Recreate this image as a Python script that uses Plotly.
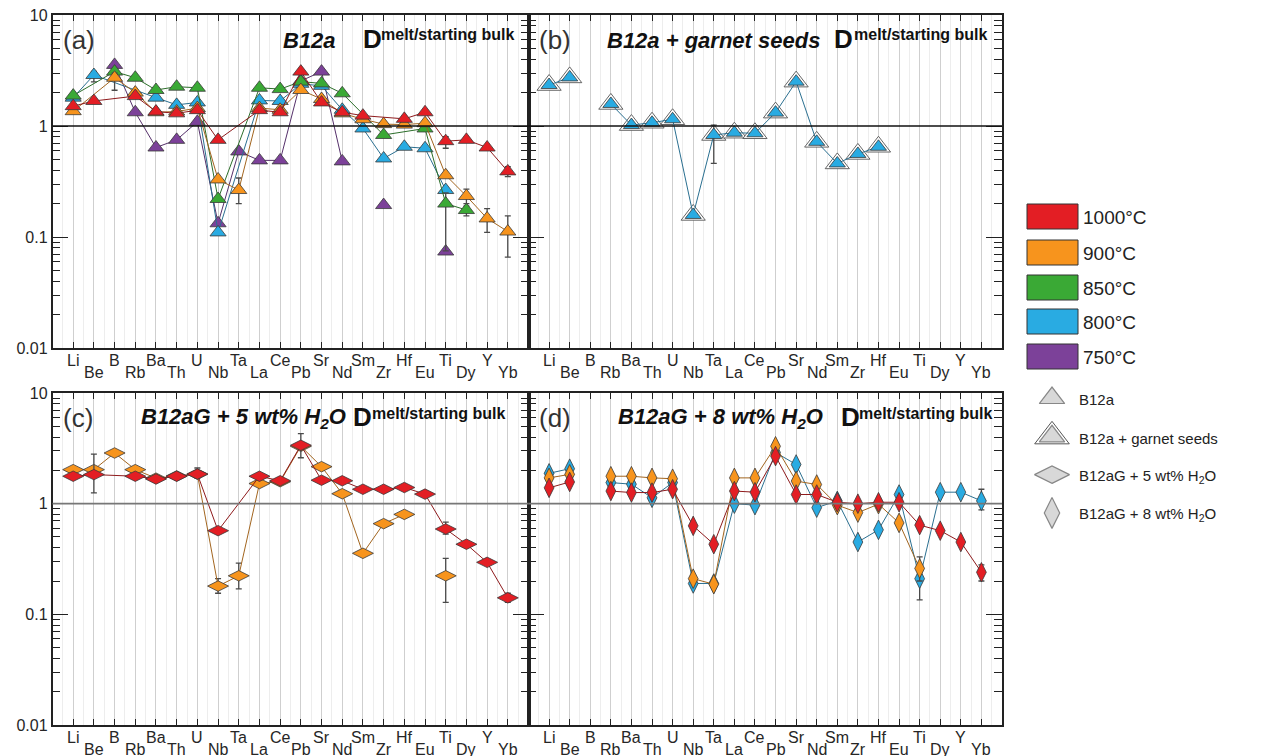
import plotly.graph_objects as go

W, H = 1283, 756
PAGE_OFFSET = 8  # default page body margin in the browser

elements = ["Li", "Be", "B", "Rb", "Ba", "Th", "U", "Nb", "Ta", "La", "Ce",
            "Pb", "Sr", "Nd", "Sm", "Zr", "Hf", "Eu", "Ti", "Dy", "Y", "Yb"]

# ---------------- Panel (a): B12a ----------------
a_1000 = [1.51, 1.68, None, 1.86, 1.35, 1.30, 1.39, 0.75, None, 1.39, 1.33,
          3.09, 1.63, 1.33, 1.24, None, 1.16, 1.33, 0.73, 0.75, 0.64, 0.39]
a_900 = [1.36, None, 2.72, 2.00, 1.33, 1.35, 1.45, 0.33, 0.265, 1.45, 1.40,
         2.11, 1.75, 1.30, 1.15, 1.04, 1.03, 1.06, 0.36, 0.234, 0.147, 0.112]
a_850 = [1.88, None, 3.09, 2.72, 2.11, 2.26, 2.21, 0.22, None, 2.21, 2.15,
         2.51, 2.42, 1.97, None, 0.83, None, 0.95, 0.20, 0.175, None, None]
a_800 = [1.80, 2.88, None, None, 1.80, 1.55, 1.63, 0.11, None, 1.70, 1.68,
         2.40, 2.30, 1.40, 0.95, 0.51, 0.65, 0.63, 0.265, None, None, None]
a_750 = [None, None, 3.55, 1.33, 0.64, 0.75, 1.09, 0.133, 0.59, 0.49, 0.49,
         2.55, 3.09, 0.48, None, 0.194, None, None, 0.074, None, None, None]

# ---------------- Panel (b): B12a + garnet seeds ----------------
b_800 = [2.34, 2.74, None, 1.58, 1.02, 1.07, 1.15, 0.158, 0.83, 0.87, 0.86,
         1.32, 2.51, 0.72, 0.46, 0.56, 0.65, None, None, None, None, None]

# ---------------- Panel (c): B12aG + 5 wt% H2O ----------------
c_1000 = [1.77, 1.83, None, 1.77, 1.67, 1.77, 1.85, 0.57, None, 1.77, 1.61,
          3.37, 1.63, 1.61, 1.35, 1.35, 1.40, 1.22, 0.59, 0.43, 0.295, 0.141]
c_900 = [2.03, 2.03, 2.87, 2.03, 1.70, 1.78, 1.85, 0.18, 0.223, 1.52, 1.58,
         3.30, 2.16, 1.23, 0.356, 0.66, 0.80, None, 0.223, None, None, None]

# ---------------- Panel (d): B12aG + 8 wt% H2O ----------------
d_1000 = [1.39, 1.57, None, 1.30, 1.26, 1.26, 1.35, 0.63, 0.43, 1.30, 1.27,
          2.69, 1.21, 1.21, 1.03, 1.00, 1.03, 1.03, 0.64, 0.57, 0.45, 0.24]
d_900 = [1.71, 1.84, None, 1.77, 1.77, 1.71, 1.68, 0.21, 0.187, 1.71, 1.71,
         3.30, 1.60, 1.49, 0.97, 0.83, 0.99, 0.67, 0.26, None, None, None]
d_800 = [1.88, 2.07, None, 1.55, 1.50, 1.13, 1.55, 0.19, 0.19, 1.00, 0.97,
         2.90, 2.26, 0.92, 1.06, 0.45, 0.58, 1.21, 0.21, 1.27, 1.27, 1.06]

# error bars: element -> (low, high)
a_1000_err = {"Ti": (0.63, 0.80), "Yb": (0.35, 0.43)}
a_900_err = {"B": (2.1, 3.0), "Ta": (0.20, 0.34), "Dy": (0.20, 0.27),
             "Y": (0.11, 0.18), "Yb": (0.066, 0.155)}
a_850_err = {"Ti": (0.075, 0.25), "Dy": (0.155, 0.19)}
a_800_err = {"Be": (2.5, 3.1), "Sm": (0.90, 1.0)}
a_750_err = {}
b_800_err = {"Ta": (0.46, 1.02)}
c_1000_err = {"Be": (1.25, 2.8), "U": (1.7, 2.1), "Pb": (2.6, 4.3),
              "Ti": (0.53, 0.68), "Yb": (0.128, 0.155)}
c_900_err = {"Nb": (0.155, 0.21), "Ta": (0.17, 0.29), "Ti": (0.128, 0.32)}
d_1000_err = {"Yb": (0.20, 0.28)}
d_900_err = {"Ti": (0.20, 0.33)}
d_800_err = {"Ti": (0.135, 0.25), "Yb": (0.88, 1.35)}

temp_labels = ["1000°C", "900°C", "850°C", "800°C", "750°C"]
temp_colors = ["#e31e24", "#f7941d", "#3aa935", "#29abe2", "#7c4199"]
line_colors = ["#8e1a1c", "#a2651f", "#2c6e2a", "#2a6f90", "#55306a"]

legend_labels = ["B12a", "B12a + garnet seeds",
                 "B12aG + 5 wt% H<sub>2</sub>O", "B12aG + 8 wt% H<sub>2</sub>O"]
legend_symbols = ["triangle-up", "triangle-up", "diamond-wide", "diamond-tall"]

panel_titles = ["B12a", "B12a + garnet seeds",
                "B12aG + 5 wt% H<sub>2</sub>O", "B12aG + 8 wt% H<sub>2</sub>O"]
panel_letters = ["(a)", "(b)", "(c)", "(d)"]

TXT = "#262626"
FONT = "Liberation Sans, Arial, sans-serif"

# panel pixel boxes on the page: (left, right, top, bottom)
boxes = [(52.5, 528.5, 15, 348), (528.5, 1002, 15, 348),
         (52.5, 528.5, 393, 725), (528.5, 1002, 393, 725)]


def fx(px):
    return (px - PAGE_OFFSET) / W


def fy(py):
    return 1 - (py - PAGE_OFFSET) / H


fig = go.Figure()
xs = list(range(len(elements)))


def add_series(vals, err, ci, symbol, size, k, connect=True):
    plus, minus = [], []
    for el, v in zip(elements, vals):
        if el in err and v is not None:
            lo, hi = err[el]
            plus.append(hi - v)
            minus.append(v - lo)
        else:
            plus.append(0)
            minus.append(0)
    sfx = "" if k == 0 else str(k + 1)
    fig.add_trace(go.Scatter(
        x=xs, y=vals, mode="lines+markers", connectgaps=connect,
        xaxis="x" + sfx, yaxis="y" + sfx,
        line=dict(color=line_colors[ci], width=1),
        marker=dict(symbol=symbol, size=size, color=temp_colors[ci],
                    line=dict(color="#3a3a3a", width=0.8)),
        error_y=dict(type="data", symmetric=False, array=plus, arrayminus=minus,
                     color="#4a4a4a", thickness=1.3, width=3),
        showlegend=False, hoverinfo="skip"))


# panel a (draw purple first, red last)
add_series(a_750, a_750_err, 4, "triangle-up", 14, 0, connect=False)
add_series(a_800, a_800_err, 3, "triangle-up", 14, 0)
add_series(a_850, a_850_err, 2, "triangle-up", 14, 0)
add_series(a_900, a_900_err, 1, "triangle-up", 14, 0)
add_series(a_1000, a_1000_err, 0, "triangle-up", 14, 0)

# panel b: outline triangle (garnet seeds) + blue triangles
fig.add_trace(go.Scatter(
    x=xs, y=b_800, mode="markers", xaxis="x2", yaxis="y2",
    marker=dict(symbol="triangle-up", size=21, color="rgba(255,255,255,0.9)",
                line=dict(color="#555", width=0.9)),
    showlegend=False, hoverinfo="skip"))
add_series(b_800, b_800_err, 3, "triangle-up", 14, 1, connect=False)

# panel c
add_series(c_900, c_900_err, 1, "diamond-wide", 15, 2, connect=False)
add_series(c_1000, c_1000_err, 0, "diamond-wide", 15, 2)

# panel d
add_series(d_800, d_800_err, 3, "diamond-tall", 14, 3, connect=False)
add_series(d_900, d_900_err, 1, "diamond-tall", 14, 3, connect=False)
add_series(d_1000, d_1000_err, 0, "diamond-tall", 14, 3, connect=False)

# legend markers on a hidden helper axis
lg_y = list(range(len(legend_labels)))
fig.add_trace(go.Scatter(
    x=[0.5], y=[lg_y[1]], mode="markers", xaxis="x5", yaxis="y5",
    marker=dict(symbol="triangle-up", size=30, color="rgba(255,255,255,0)",
                line=dict(color="#555", width=1)),
    showlegend=False, hoverinfo="skip"))
fig.add_trace(go.Scatter(
    x=[0.5] * 4, y=lg_y, mode="markers", xaxis="x5", yaxis="y5",
    marker=dict(symbol=legend_symbols, size=[22, 22, 25, 22], color="#c8c8c8",
                line=dict(color="#555", width=1.2)),
    showlegend=False, hoverinfo="skip"))

layout = dict(width=W, height=H,
              margin=dict(l=0, r=0, t=0, b=0, pad=0, autoexpand=False),
              paper_bgcolor="white", plot_bgcolor="white",
              font=dict(family=FONT, color=TXT), showlegend=False)

shapes = []
annotations = []
for k, (l, r, t, b) in enumerate(boxes):
    sfx = "" if k == 0 else str(k + 1)
    layout["xaxis" + sfx] = dict(
        domain=[fx(l), fx(r)], range=[-1, 22], anchor="y" + sfx, automargin=False,
        tickmode="array", tickvals=xs, showticklabels=False,
        ticks="inside", ticklen=6, tickwidth=1.2, tickcolor="#222",
        showline=True, linecolor="#222", linewidth=1.5, mirror="allticks",
        showgrid=True, gridcolor="#cfcfcf", gridwidth=1, zeroline=False,
        minor=dict(tickmode="linear", tick0=0.5, dtick=1, showgrid=True,
                   gridcolor="#ededed", gridwidth=1, ticks=""))
    layout["yaxis" + sfx] = dict(
        domain=[fy(b), fy(t)], type="log", range=[-2, 1], anchor="x" + sfx,
        automargin=False, ticklabeloverflow="allow",
        tickmode="array", tickvals=[0.01, 0.1, 1, 10],
        ticktext=["0.01", "0.1", "1", "10"], showticklabels=(k in (0, 2)),
        tickfont=dict(size=16, color=TXT),
        ticks="inside", ticklen=16, tickwidth=1.2, tickcolor="#222",
        showline=True, linecolor="#222", linewidth=1.5, mirror="allticks",
        showgrid=False, zeroline=False,
        minor=dict(dtick="D1", ticks="inside", ticklen=8, tickwidth=1.2,
                   tickcolor="#222", showgrid=False))
    # D = 1 reference line
    shapes.append(dict(type="line", xref="x" + sfx + " domain", yref="y" + sfx + " domain",
                       x0=0, x1=1, y0=2 / 3, y1=2 / 3,
                       line=dict(color="#111" if k < 2 else "#777", width=1.6)))
    # element labels (alternating rows)
    for i, el in enumerate(elements):
        annotations.append(dict(
            x=i, y=0, xref="x" + sfx, yref="y" + sfx + " domain",
            text=el, showarrow=False, xanchor="center", yanchor="middle",
            yshift=-12 if i % 2 == 0 else -24,
            font=dict(size=16, color=TXT)))

# panel headers
hdr = [  # title right edge, D left, sup left
    (338, 361, 379), (822, 832, 852), (348, 351, 370), (825, 839, 857)]
for k, (l, r, t, b) in enumerate(boxes):
    tr, dl, sl = hdr[k]
    annotations.append(dict(x=fx(l + 8), y=fy(t + 25), xref="paper", yref="paper",
                            text=panel_letters[k], showarrow=False, xanchor="left",
                            yanchor="middle", font=dict(size=26, color="#333")))
    annotations.append(dict(x=fx(tr), y=fy(t + 25), xref="paper", yref="paper",
                            text="<b><i>" + panel_titles[k] + "</i></b>", showarrow=False,
                            xanchor="right", yanchor="middle",
                            font=dict(size=22, color="#111")))
    annotations.append(dict(x=fx(dl), y=fy(t + 24), xref="paper", yref="paper",
                            text="<b>D</b>", showarrow=False, xanchor="left",
                            yanchor="middle", font=dict(size=26, color="#111")))
    annotations.append(dict(x=fx(sl), y=fy(t + 20), xref="paper", yref="paper",
                            text="<b>melt/starting bulk</b>", showarrow=False,
                            xanchor="left", yanchor="middle",
                            font=dict(size=16, color="#111")))

# colour legend
box_tops = [204, 240, 275, 309, 344]
for i, lab in enumerate(temp_labels):
    y0 = box_tops[i]
    shapes.append(dict(type="rect", xref="paper", yref="paper",
                       x0=fx(1027), x1=fx(1078), y0=fy(y0 + 25), y1=fy(y0),
                       fillcolor=temp_colors[i], line=dict(color="#333", width=1)))
    annotations.append(dict(x=fx(1081), y=fy(y0 + 13), xref="paper", yref="paper",
                            text=lab, showarrow=False, xanchor="left", yanchor="middle",
                            font=dict(size=19, color="#222")))

# marker legend helper axis
leg_c = [398, 437, 475, 513]
step = 38.3
layout["xaxis5"] = dict(domain=[fx(1032), fx(1072)], range=[0, 1], visible=False,
                        anchor="y5", automargin=False)
layout["yaxis5"] = dict(domain=[fy(leg_c[-1] + step / 2), fy(leg_c[0] - step / 2)],
                        range=[3.5, -0.5], visible=False, anchor="x5", automargin=False)
for i, lab in enumerate(legend_labels):
    annotations.append(dict(x=fx(1077), y=fy(leg_c[i] + 1), xref="paper", yref="paper",
                            text=lab, showarrow=False, xanchor="left", yanchor="middle",
                            font=dict(size=15, color="#222")))

layout["shapes"] = shapes
layout["annotations"] = annotations
fig.update_layout(**layout)
fig.write_html("out.html")
